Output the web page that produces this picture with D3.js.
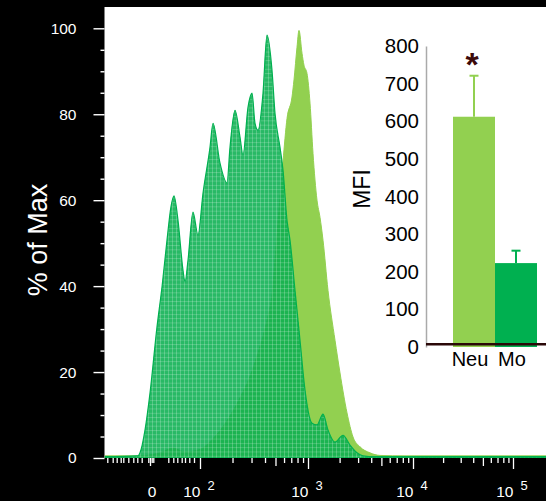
<!DOCTYPE html>
<html>
<head>
<meta charset="utf-8">
<script src="https://cdn.jsdelivr.net/npm/d3@7/dist/d3.min.js"></script>
<style>
  body { margin: 0; background: #000; }
  svg { display: block; font-family: "Liberation Sans", Arial, sans-serif; }
</style>
</head>
<body>
<svg id="chart" width="546" height="501"></svg>
<script>
// histogram traces: x in display channels (biexponential axis), y in % of max
var neuCh  = [0, 33, 55, 68, 80, 95, 108, 120, 135, 145, 155, 162, 167, 172, 178, 182, 187, 189, 192, 194, 197, 199, 202, 205, 208, 212, 215, 218, 223, 230, 235, 242, 248, 255, 265, 275, 300, 450];
var neuPct = [0.5, 0.5, 1.2, 2.3, 1.4, 2, 4.5, 8, 14, 19, 26, 32, 38, 52, 69, 79, 84, 88, 95.6, 99.5, 94.2, 91.4, 89.5, 82.6, 70.9, 60, 56, 50.7, 39, 27.4, 19.8, 10.5, 4.9, 2.6, 1.2, 0.6, 0.5, 0.5];

var moCh  = [0, 33, 35, 40, 45, 52, 57, 62, 66, 69, 73, 78, 80, 83, 88, 93, 98, 105, 108, 115, 122, 125, 130, 135, 138, 143, 147, 150, 153, 158, 162, 167, 170, 175, 178, 182, 185, 190, 195, 200, 207, 212, 218, 223, 230, 238, 245, 252, 258, 270, 450];
var moPct = [0.3, 0.5, 1.2, 6.5, 15.1, 30.5, 39.8, 50.7, 58.5, 61, 55.3, 43.7, 41, 46, 57.2, 51.9, 61.6, 72.3, 77.9, 68.6, 64, 72.3, 80.9, 74.7, 70.5, 81.6, 84.9, 77.9, 76.3, 84.9, 98.4, 90.2, 80.2, 72.3, 67, 55.3, 50.7, 39, 27.4, 15.8, 8.1, 7.7, 10.2, 6.5, 3.7, 5.3, 3, 1.2, 0.5, 0.3, 0.3];

// x axis ticks
var decadeExp = [2, 3, 4, 5];
var decadeCh = [95, 203, 308, 408];
var zeroCh = 45;
var lowTickCh = [2.3, 7.7, 11.7, 15.7, 18.3, 23.3, 28.3, 32.3, 36.7, 43.3, 46.7, 48.3, 63.3, 68.3, 72.3, 76.7, 80, 84.3, 89];
var pctTicks = [0, 20, 40, 60, 80, 100];

// inset bar chart
var mfiCats = ["Neu", "Mo"];
var mfiMean = [612, 223];
var mfiErr = [109, 33];
var mfiTicks = [0, 100, 200, 300, 400, 500, 600, 700, 800];

var lightGreen = "#92d050", darkGreen = "#00b050";

var svg = d3.select("#chart");

svg.append("rect")
    .attr("x", 104.5).attr("y", 7)
    .attr("width", 546 - 104.5).attr("height", 458 - 7)
    .attr("fill", "#fff");

var x = d3.scaleLinear().domain([0, 450]).range([105, 555]);
var y = d3.scaleLinear().domain([0, 100]).range([458, 28.3]);
var chOfLog = d3.scaleLinear().domain(decadeExp).range(decadeCh);

var defs = svg.append("defs");
var pat = defs.append("pattern")
    .attr("id", "mesh")
    .attr("patternUnits", "userSpaceOnUse")
    .attr("width", 4).attr("height", 4.3);
pat.append("rect").attr("width", 4).attr("height", 4.3)
    .attr("fill", "#0aaf4f").attr("fill-opacity", 0.88);
pat.append("path").attr("d", "M0,0.5H4M0.5,0V4.3")
    .attr("stroke", "#fff").attr("stroke-opacity", 0.25).attr("stroke-width", 0.8);

defs.append("clipPath").attr("id", "plotClip")
    .append("rect").attr("x", 104.5).attr("y", 7).attr("width", 442).attr("height", 451);

var area = d3.area()
    .x(function (d) { return x(d[0]); })
    .y0(y(0))
    .y1(function (d) { return y(d[1]); })
    .curve(d3.curveMonotoneX);

var neuData = neuCh.map(function (c, i) { return [c, neuPct[i]]; });
var moData = moCh.map(function (c, i) { return [c, moPct[i]]; });

var hist = svg.append("g").attr("clip-path", "url(#plotClip)");
hist.append("path").datum(neuData)
    .attr("fill", lightGreen)
    .attr("stroke", lightGreen).attr("stroke-width", 1)
    .attr("d", area);
hist.append("path").datum(moData)
    .attr("fill", "url(#mesh)")
    .attr("stroke", darkGreen).attr("stroke-width", 1.2)
    .attr("d", area);

// y axis
var yMajor = svg.append("g")
    .attr("transform", "translate(104.5,0)")
    .call(d3.axisLeft(y).tickValues(pctTicks).tickSize(11).tickPadding(17));
var yMinor = svg.append("g")
    .attr("transform", "translate(104.5,0)")
    .call(d3.axisLeft(y).tickValues(d3.range(0, 101, 5).filter(function (v) { return v % 20; }))
        .tickSize(4).tickFormat(""));
[yMajor, yMinor].forEach(function (g) {
    g.select(".domain").remove();
    g.selectAll("line").attr("stroke", "#fff").attr("stroke-width", 1.4);
    g.selectAll("text").attr("fill", "#fff").attr("font-size", 15.5)
        .attr("font-family", "Liberation Sans, Arial, sans-serif");
});

svg.append("text")
    .attr("transform", "translate(47,240) rotate(-90)")
    .attr("text-anchor", "middle")
    .attr("fill", "#fff")
    .attr("font-size", 27)
    .text("% of Max");

// x axis
var minorCh = [];
decadeExp.slice(0, -1).forEach(function (e) {
    for (var k = 2; k <= 9; k++) minorCh.push({ ch: chOfLog(e + Math.log10(k)), k: k });
});

var xAxisG = svg.append("g").attr("transform", "translate(0,458)");
xAxisG.call(d3.axisBottom(x).tickValues(decadeCh).tickSize(11).tickFormat(""));
xAxisG.append("g").call(d3.axisBottom(x).tickValues(minorCh.filter(function (d) { return d.k !== 5; }).map(function (d) { return d.ch; }))
    .tickSize(5).tickFormat(""));
xAxisG.append("g").call(d3.axisBottom(x).tickValues(minorCh.filter(function (d) { return d.k === 5; }).map(function (d) { return d.ch; }))
    .tickSize(8).tickFormat(""));
xAxisG.append("g").call(d3.axisBottom(x).tickValues(lowTickCh).tickSize(5).tickFormat(""));
xAxisG.append("g").call(d3.axisBottom(x).tickValues([zeroCh]).tickSize(8).tickFormat(""));
xAxisG.selectAll(".domain").remove();
xAxisG.selectAll("line").attr("stroke", "#fff").attr("stroke-width", 1.3);

svg.append("text")
    .attr("x", x(zeroCh) + 2).attr("y", 497)
    .attr("text-anchor", "middle").attr("fill", "#fff").attr("font-size", 15.5)
    .text("0");

var decLab = svg.selectAll(".declab").data(decadeExp).enter().append("g").attr("class", "declab");
decLab.append("text")
    .attr("x", function (d, i) { return x(decadeCh[i]) + 0.5; })
    .attr("y", 497)
    .attr("text-anchor", "end").attr("fill", "#fff").attr("font-size", 15.5)
    .text("10");
decLab.append("text")
    .attr("x", function (d, i) { return x(decadeCh[i]) + 7.5; })
    .attr("y", 489.5)
    .attr("text-anchor", "start").attr("fill", "#fff").attr("font-size", 13)
    .text(function (d) { return d; });

// inset: MFI bars
var mfiY = d3.scaleLinear().domain([0, 800]).range([347, 46]);
var mfiX = d3.scaleBand().domain(mfiCats).range([453, 537]);

var inset = svg.append("g");
var mfiAxis = inset.append("g")
    .attr("transform", "translate(426,0)")
    .call(d3.axisLeft(mfiY).tickValues(mfiTicks).tickSize(0).tickPadding(7));
mfiAxis.select(".domain").attr("stroke", "#aaa").attr("stroke-width", 1.5);
mfiAxis.selectAll("text").attr("fill", "#000").attr("font-size", 20.5)
    .attr("font-family", "Liberation Sans, Arial, sans-serif");

var barColors = [lightGreen, darkGreen];
inset.selectAll(".bar").data(mfiCats).enter().append("rect")
    .attr("class", "bar")
    .attr("x", function (d) { return mfiX(d); })
    .attr("y", function (d, i) { return mfiY(mfiMean[i]); })
    .attr("width", mfiX.bandwidth())
    .attr("height", function (d, i) { return mfiY(0) - mfiY(mfiMean[i]); })
    .attr("fill", function (d, i) { return barColors[i]; });

var errG = inset.selectAll(".err").data(mfiCats).enter().append("g").attr("class", "err");
errG.append("line")
    .attr("x1", function (d) { return mfiX(d) + mfiX.bandwidth() / 2; })
    .attr("x2", function (d) { return mfiX(d) + mfiX.bandwidth() / 2; })
    .attr("y1", function (d, i) { return mfiY(mfiMean[i]); })
    .attr("y2", function (d, i) { return mfiY(mfiMean[i] + mfiErr[i]); })
    .attr("stroke", function (d, i) { return barColors[i]; }).attr("stroke-width", 2);
errG.append("line")
    .attr("x1", function (d) { return mfiX(d) + mfiX.bandwidth() / 2 - 4.5; })
    .attr("x2", function (d) { return mfiX(d) + mfiX.bandwidth() / 2 + 4.5; })
    .attr("y1", function (d, i) { return mfiY(mfiMean[i] + mfiErr[i]); })
    .attr("y2", function (d, i) { return mfiY(mfiMean[i] + mfiErr[i]); })
    .attr("stroke", function (d, i) { return barColors[i]; }).attr("stroke-width", 2);

inset.append("line")
    .attr("x1", 426).attr("x2", 546)
    .attr("y1", mfiY(0) - 2.8).attr("y2", mfiY(0) - 2.8)
    .attr("stroke", "#2a0808").attr("stroke-width", 2.6);

inset.selectAll(".cat").data(mfiCats).enter().append("text")
    .attr("class", "cat")
    .attr("x", function (d) { return mfiX(d) + mfiX.bandwidth() / 2 - 4; })
    .attr("y", 366)
    .attr("text-anchor", "middle").attr("fill", "#000").attr("font-size", 20)
    .text(function (d) { return d; });

inset.append("text")
    .attr("x", mfiX("Neu") + mfiX.bandwidth() / 2 - 2)
    .attr("y", 76)
    .attr("text-anchor", "middle").attr("fill", "#3c0a0a")
    .attr("font-size", 34).attr("font-weight", "bold")
    .text("*");

inset.append("text")
    .attr("transform", "translate(370,189) rotate(-90)")
    .attr("text-anchor", "middle").attr("fill", "#000").attr("font-size", 23)
    .text("MFI");
</script>
</body>
</html>
